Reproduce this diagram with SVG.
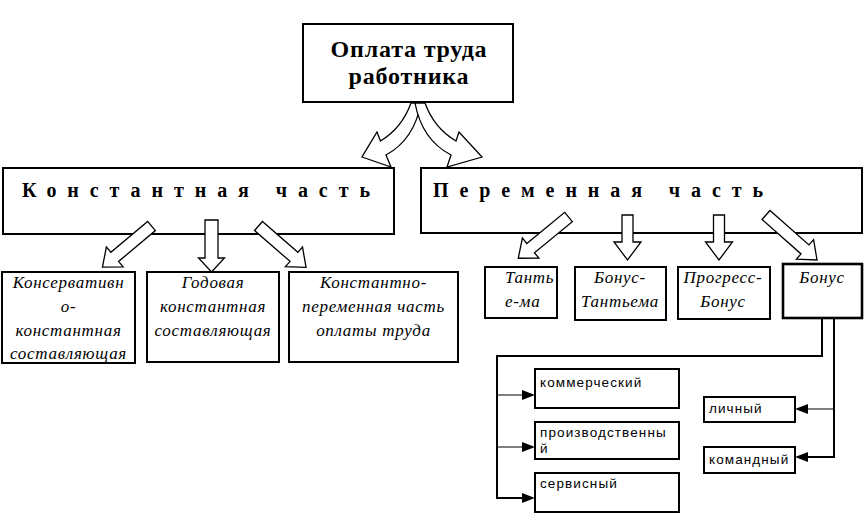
<svg xmlns="http://www.w3.org/2000/svg" width="866" height="517" viewBox="0 0 866 517">
<style>
.box{fill:#fff;stroke:#000;stroke-width:2}
.thk{stroke-width:2.6}
.arr{fill:#fff;stroke:#000;stroke-width:1.3;stroke-linejoin:miter}
.ln{fill:none;stroke:#000;stroke-width:2}
.br{fill:none;stroke:#000;stroke-width:1}
.hd{fill:#000}
.ttl{font-family:"Liberation Serif",serif;font-weight:bold;font-size:24px;letter-spacing:0.8px;text-anchor:middle}
.big{font-family:"Liberation Serif",serif;font-weight:bold;font-size:20px}
.it{font-family:"Liberation Serif",serif;font-style:italic;font-size:17px;letter-spacing:0.7px}
.mid{text-anchor:middle}
.sn{font-family:"Liberation Sans",Arial,sans-serif;font-size:13.5px;letter-spacing:1.1px}
</style>
<rect width="866" height="517" fill="#fff"/>

<g id="root">
<rect class="box" x="303" y="24" width="210" height="78"/>
<text class="ttl" x="409" y="57">Оплата труда</text>
<text class="ttl" x="409" y="84">работника</text>
</g>

<g id="const">
<rect class="box" x="3" y="168" width="391" height="66"/>
<text class="big" x="22" y="197" textLength="348" lengthAdjust="spacing">Константная часть</text>
</g>

<g id="var">
<rect class="box" x="421" y="168" width="441" height="65"/>
<text class="big" x="433" y="197" textLength="330" lengthAdjust="spacing">Переменная часть</text>
</g>

<g id="c1">
<rect class="box" x="2" y="272" width="133" height="91"/>
<text class="it mid" x="68.5" y="288">Консервативн</text>
<text class="it mid" x="68.5" y="312">о-</text>
<text class="it mid" x="68.5" y="336">константная</text>
<text class="it mid" x="68.5" y="359">составляющая</text>
</g>
<g id="c2">
<rect class="box" x="147" y="272" width="132" height="90"/>
<text class="it mid" x="213" y="288">Годовая</text>
<text class="it mid" x="213" y="312">константная</text>
<text class="it mid" x="213" y="336">составляющая</text>
</g>
<g id="c3">
<rect class="box" x="289" y="272" width="169" height="90"/>
<text class="it mid" x="373.5" y="288">Константно-</text>
<text class="it mid" x="373.5" y="312">переменная часть</text>
<text class="it mid" x="373.5" y="336">оплаты труда</text>
</g>

<g id="v1">
<rect class="box" x="485" y="267" width="72" height="51"/>
<text class="it" x="505" y="283">Танть</text>
<text class="it" x="505" y="307">е-ма</text>
</g>
<g id="v2">
<rect class="box" x="575" y="267" width="91" height="53"/>
<text class="it mid" x="620" y="283">Бонус-</text>
<text class="it mid" x="620" y="307">Тантьема</text>
</g>
<g id="v3">
<rect class="box" x="678" y="267" width="92" height="52"/>
<text class="it mid" x="723" y="283">Прогресс-</text>
<text class="it mid" x="723" y="307">Бонус</text>
</g>
<g id="v4">
<rect class="box thk" x="783" y="264" width="79" height="54"/>
<text class="it mid" x="822" y="283">Бонус</text>
</g>

<g id="b1">
<rect class="box" x="535" y="369" width="144" height="39"/>
<text class="sn" x="540" y="387">коммерческий</text>
</g>
<g id="b2">
<rect class="box" x="535" y="422" width="144" height="37"/>
<text class="sn" x="540" y="437">производственны</text>
<text class="sn" x="540" y="453">й</text>
</g>
<g id="b3">
<rect class="box" x="535" y="473" width="144" height="39"/>
<text class="sn" x="540" y="488">сервисный</text>
</g>
<g id="b4">
<rect class="box" x="704" y="397" width="91" height="25"/>
<text class="sn" x="709" y="413">личный</text>
</g>
<g id="b5">
<rect class="box" x="704" y="447" width="91" height="26"/>
<text class="sn" x="709" y="464">командный</text>
</g>

<g id="connectors">
<path class="arr" d="M411,103 Q402,128 380.5,141 L377,132 L362,157 L391,167 L386,155 Q414,140 421,103 Z"/>
<path class="arr" d="M425,103 Q434,128 456,141 L459,132 L482,157 L447,167 L451,155 Q422,140 415,103 Z"/>

<path class="arr" transform="translate(151.5,226) rotate(50)" d="M-6,0 L6,0 L6,48 L13,48 L0,64 L-13,48 L-6,48 Z"/>
<path class="arr" transform="translate(211.5,220)" d="M-6.5,0 L6.5,0 L6.5,38 L13,38 L0,52 L-13,38 L-6.5,38 Z"/>
<path class="arr" transform="translate(258.5,226) rotate(-49)" d="M-6,0 L6,0 L6,47 L13,47 L0,63 L-13,47 L-6,47 Z"/>

<path class="arr" transform="translate(568.5,217) rotate(50.6)" d="M-6,0 L6,0 L6,49 L13,49 L0,65 L-13,49 L-6,49 Z"/>
<path class="arr" transform="translate(627.5,215)" d="M-5.5,0 L5.5,0 L5.5,27 L13.5,27 L0,45 L-13.5,27 L-5.5,27 Z"/>
<path class="arr" transform="translate(719,215)" d="M-5.5,0 L5.5,0 L5.5,27 L13.5,27 L0,45 L-13.5,27 L-5.5,27 Z"/>
<path class="arr" transform="translate(766,215) rotate(-48.6)" d="M-6,0 L6,0 L6,52 L13,52 L0,68 L-13,52 L-6,52 Z"/>

<polyline class="ln" points="822,318 822,356 497,356 497,498 522,498"/>
<line class="br" x1="497" y1="395" x2="523" y2="395"/>
<line class="br" x1="497" y1="447" x2="523" y2="447"/>
<path class="hd" d="M535,395 L522,390 L522,400 Z"/>
<path class="hd" d="M535,447 L522,442 L522,452 Z"/>
<path class="hd" d="M535,498 L522,493 L522,503 Z"/>

<polyline class="ln" points="834,318 834,457 808,457"/>
<line class="br" x1="834" y1="409" x2="807" y2="409"/>
<path class="hd" d="M795,409 L808,404 L808,414 Z"/>
<path class="hd" d="M795,457 L808,452 L808,462 Z"/>
</g>
</svg>
